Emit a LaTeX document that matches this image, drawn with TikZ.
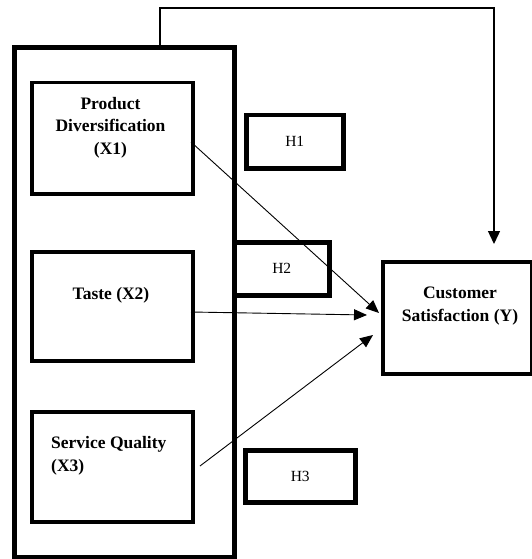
\documentclass[tikz,border=0pt]{standalone}
\usepackage{fontspec}
\setmainfont{Liberation Serif}
\usetikzlibrary{arrows.meta}
\begin{document}
\begin{tikzpicture}[x=1pt,y=-1pt,
  outerbox/.style={draw, line width=5pt, inner sep=0pt, anchor=north west},
  varbox/.style={draw, line width=3.5pt, inner sep=0pt, anchor=north west},
  hbox/.style={draw, line width=4.5pt, inner sep=0pt, anchor=north west, font=\fontsize{15.5}{18}\selectfont},
  lbl/.style={font=\bfseries\fontsize{17.5}{22.5}\selectfont, inner sep=0pt},
  link/.style={line width=0.9pt, -{Triangle[length=13pt,width=11pt]}}
]
\useasboundingbox (0,0) rectangle (532,559);
% outer group box
\node[outerbox, minimum width=220pt, minimum height=510pt] (grp) at (12,45) {};
% variable boxes
\node[varbox, minimum width=161pt, minimum height=111pt] (prod) at (30,81) {};
\node[varbox, minimum width=161pt, minimum height=109pt] (taste) at (30,250) {};
\node[varbox, minimum width=161pt, minimum height=110pt] (serv) at (30,410) {};
\node[varbox, minimum width=149pt, minimum height=112pt] (cust) at (381,260) {};
% hypothesis boxes
\node[hbox, minimum width=97pt, minimum height=53pt] (h1) at (244,113) {H1};
\node[hbox, minimum width=95pt, minimum height=53pt] (h2) at (232,240) {H2};
\node[hbox, minimum width=110pt, minimum height=52pt] (h3) at (243,448) {H3};
% texts
\node[lbl, align=center] (prodtxt) at (110.5,127.5) {Product\\Diversification\\(X1)};
\node[lbl] (tastetxt) at (111,295) {Taste (X2)};
\node[lbl, align=left, anchor=west] (servtxt) at (51,456) {Service Quality\\(X3)};
\node[lbl, align=center] (custtxt) at (460,306) {Customer\\Satisfaction (Y)};
% connector coordinates
\coordinate (topstart) at (160,45);
\coordinate (topend) at (494,244);
\coordinate (pstart) at (191,142);
\coordinate (ptip) at (379,313);
\coordinate (tstart) at (191,312);
\coordinate (ttip) at (367,315);
\coordinate (sstart) at (200,466);
\coordinate (stip) at (373,335);
% connectors
\draw[line width=1.4pt, -{Triangle[length=13pt,width=12pt]}] (topstart) |- (494,8) -- (topend);
\draw[link] (pstart) -- (ptip);
\draw[link] (tstart) -- (ttip);
\draw[link] (sstart) -- (stip);
\end{tikzpicture}
\end{document}
